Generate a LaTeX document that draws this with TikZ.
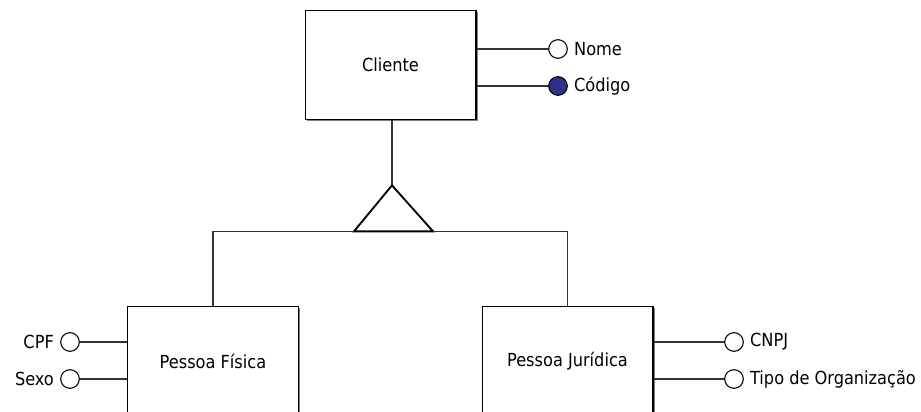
\documentclass[tikz,border=0pt]{standalone}
\usepackage{fontspec}
\setmainfont{DejaVu Sans Condensed}
\usetikzlibrary{positioning,shadows}

\definecolor{keyblue}{RGB}{46,49,140}

\tikzset{
	entity/.style={draw, line width=1pt, fill=white, minimum width=128pt, minimum height=82pt,
		drop shadow={shadow xshift=1.3pt, shadow yshift=-1.3pt, fill=black!50, opacity=1}},
	attr/.style={draw, circle, line width=0.8pt, fill=white, minimum size=14pt, inner sep=0pt},
	keyattr/.style={attr, fill=keyblue},
	attrlabel/.style={inner sep=1pt},
	conn/.style={line width=0.9pt, black!80},
	isa/.style={line width=1.4pt, black, line join=miter},
}

\begin{document}
\begin{tikzpicture}[x=0.75pt, y=-0.75pt, font=\fontsize{13.5}{16}\selectfont]

		\useasboundingbox (0,0) rectangle (921,411);
		\clip (0,0) rectangle (921,411);

		\pgfmathsetmacro{\attrtop}{342}
		\pgfmathsetmacro{\attrbottom}{379}

		% draw entities
		\node[entity] (cliente) at (390.5, 65) {Cliente};
		\node[entity] (fisica) at (213, 361) {Pessoa Física};
		\node[entity] (juridica) at (567.5, 361) {Pessoa Jurídica};

		% draw attributes of Cliente
		\node[attr] (nome) at (558, 49) {};
		\node[keyattr] (codigo) at (558, 86) {};
		\node[attrlabel, right=3.5pt of nome] (nomelabel) {Nome};
		\node[attrlabel, right=3.5pt of codigo] (codigolabel) {Código};
		\foreach \attrname in {nome, codigo}
		{
			\draw[conn] (\attrname -| cliente.east) -- (\attrname.west);
		}

		% draw attributes of Pessoa Fisica
		\node[attr] (cpf) at (70, \attrtop) {};
		\node[attr] (sexo) at (70, \attrbottom) {};
		\node[attrlabel, left=3.5pt of cpf] (cpflabel) {CPF};
		\node[attrlabel, left=3.5pt of sexo] (sexolabel) {Sexo};
		\foreach \attrname in {cpf, sexo}
		{
			\draw[conn] (\attrname.east) -- (\attrname -| fisica.west);
		}

		% draw attributes of Pessoa Juridica
		\node[attr] (cnpj) at (734, \attrtop) {};
		\node[attr] (tipo) at (734, \attrbottom) {};
		\node[attrlabel, right=3.5pt of cnpj] (cnpjlabel) {CNPJ};
		\node[attrlabel, right=3.5pt of tipo] (tipolabel) {Tipo de Organização};
		\foreach \attrname in {cnpj, tipo}
		{
			\draw[conn] (\attrname -| juridica.east) -- (\attrname.west);
		}

		% draw specialization triangle
		\path (cliente.south) ++(1.5, 65) coordinate (isatop);
		\path (isatop) ++(-38, 46) coordinate (isaleft);
		\path (isatop) ++(41, 46) coordinate (isaright);
		\draw[conn] (cliente.south -| isatop) -- (isatop);
		\draw[isa] (isatop) -- (isaleft) -- (isaright) -- cycle;

		% draw branches to the subtypes
		\draw[conn] (fisica.north) -- (fisica.north |- isaleft) -- (isaleft);
		\draw[conn] (isaright) -- (juridica.north |- isaright) -- (juridica.north);

\end{tikzpicture}
\end{document}
